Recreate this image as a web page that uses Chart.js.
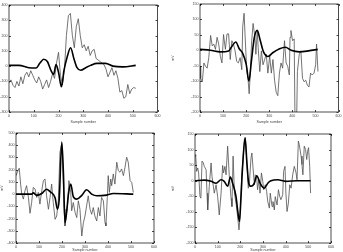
<!DOCTYPE html>
<html>
<head>
<meta charset="utf-8">
<script src="https://cdn.jsdelivr.net/npm/chart.js@4.4.0/dist/chart.umd.min.js"></script>
<style>
  body { margin: 0; background: #fff; width: 343px; height: 252px; position: relative; overflow: hidden; }
  canvas { position: absolute; }
</style>
</head>
<body>
<canvas id="c1" style="left:0;top:0" width="162" height="124"></canvas>
<canvas id="c2" style="left:171px;top:0" width="172" height="124"></canvas>
<canvas id="c3" style="left:0;top:126px" width="160" height="126"></canvas>
<canvas id="c4" style="left:171px;top:126px" width="172" height="126"></canvas>
<script>
// x tick labels (shared)
const xTicks = [0, 100, 200, 300, 400, 500, 600]

// panel 1 (top left)
const p1Samples = [0,8,16,24,32,40,48,56,64,72,80,88,96,104,112,120,128,136,144,152,160,168,176,184,192,200,208,216,224,232,240,248,256,264,272,280,288,296,304,312,320,328,336,344,352,360,368,376,384,392,400,408,416,424,432,440,448,456,464,472,480,488,496,504,512]
const p1Grey = [-110,-90,-125,-140,-100,-130,-70,-115,-60,-40,-70,-30,-60,-90,-110,-70,-100,-150,-120,-90,-140,-100,-50,-80,20,90,-60,-120,-20,200,330,345,200,120,260,310,200,120,140,100,130,70,100,110,50,40,30,20,10,-20,-70,-40,-10,-60,-30,-80,-170,-160,-210,-200,-120,-180,-150,-140,-145]
const p1SmoothX = [0,40,80,110,125,140,155,170,180,190,200,212,222,235,249,262,275,290,310,330,355,390,420,460,512]
const p1Smooth = [5,5,-10,-12,20,45,30,-30,-55,10,-40,-135,-30,60,120,50,-10,-27,-10,5,18,18,0,-5,5]

// panel 2 (top right)
const p2Samples = [0,3,10,17,24,31,38,46,53,60,67,74,81,88,95,102,110,117,124,131,138,145,152,159,166,174,181,185,191,195,202,209,213,219,223,230,238,242,248,252,259,266,273,280,287,294,302,309,316,323,330,337,344,351,358,366,373,380,387,390,394,401,408,412,418,422,430,437,444,451,458,465,472,479,486,494,501,505,511]
const p2Grey = [-52,-91,-102,-41,-52,-58,-24,48,14,20,3,42,20,-19,-41,51,3,53,53,-30,31,20,-2,-36,-41,-24,-63,76,120,53,-58,-102,-141,-58,20,87,42,-13,64,9,-69,-2,-47,-30,-13,-74,-19,-74,-30,-97,-136,-147,-74,-41,-58,31,-41,-52,-80,42,64,31,37,-260,-260,-69,-13,-2,-91,-102,-97,-113,-119,-74,-80,-74,-47,20,-69]
const p2SmoothX = [0,45,88,124,140,155,170,185,200,212,222,235,248,260,275,295,315,345,370,395,430,470,510]
const p2Smooth = [3,0,-5,-2,15,27,5,-10,-45,-100,-40,40,65,35,-5,-20,-8,5,10,0,-5,-2,3]

// panel 3 (bottom left)
const p3Samples = [0,6,14,20,25,32,39,46,54,61,68,75,83,90,97,104,112,119,126,133,141,148,155,162,170,177,184,191,199,203,209,213,220,225,230,238,242,249,257,264,271,278,286,293,300,307,314,322,329,336,343,351,358,365,372,380,387,391,397,401,406,412,416,423,430,438,445,452,459,467,474,481,488,496,503,510]
const p3Grey = [151,179,212,82,0,-41,27,69,-27,-157,-69,55,41,-27,14,-82,27,110,124,-14,-124,-27,82,-69,-206,-179,-55,343,412,247,-124,-261,-151,-69,110,14,-137,-69,-151,-192,-55,-124,-343,-234,-179,-96,-14,-124,-165,-110,-179,-220,-110,-179,-27,-55,-234,-261,-27,151,14,124,69,165,82,261,192,179,206,151,220,302,261,110,96,14]
const p3SmoothX = [0,68,75,90,112,133,148,170,180,188,199,206,213,220,228,238,249,264,286,307,329,351,394,423,510]
const p3Smooth = [0,0,10,-10,5,40,20,-30,-124,-40,426,180,-234,-150,0,82,-20,-41,-10,36,0,-14,-8,5,0]

// panel 4 (bottom right)
const p4Samples = [0,3,7,12,16,22,26,31,37,41,49,53,56,63,71,75,79,85,93,100,107,115,122,126,132,137,144,151,159,163,168,174,181,188,194,199,206,212,218,222,228,235,240,247,251,256,262,266,272,276,281,287,293,299,303,310,316,321,328,332,340,344,350,354,362,368,374,379,387,391,397,401,406,412,418,424,431,438,446,450,456,460,468,472,476,482,488,493,497,501,506,510]
const p4Grey = [79,84,30,41,25,-51,-56,63,57,46,35,-40,-94,-18,57,14,14,-40,-13,-51,-110,-40,49,25,46,19,111,19,-56,-83,79,-40,-72,-115,-158,-115,14,68,133,138,68,-24,-8,73,89,41,-13,19,14,-29,3,-40,25,-2,-29,-13,-34,-67,-88,-40,-83,-67,-94,-51,-78,-29,-51,-61,-45,30,46,-40,-99,-72,-13,-24,19,46,25,3,127,116,79,52,19,111,100,68,95,106,46,-40]
const p4SmoothX = [0,41,71,93,115,129,144,156,166,181,188,196,203,210,221,229,237,247,262,272,290,306,321,335,365,400,450,510]
const p4Smooth = [0,2,-2,-8,3,-2,-18,12,-8,-51,-94,-131,-51,46,138,57,-8,-18,-8,16,-12,-24,-8,0,3,-2,0,0]

const tickFont = { family: 'Liberation Sans', size: 3.6 }

// box round the plot + small inward tick marks
const frame = {
  id: 'frame',
  afterDatasetsDraw(chart) {
    const { ctx, chartArea: a, scales: { x, y } } = chart
    ctx.save()
    ctx.strokeStyle = '#000'
    ctx.lineWidth = 0.7
    ctx.strokeRect(a.left, a.top, a.right - a.left, a.bottom - a.top)
    ctx.beginPath()
    x.ticks.forEach(t => {
      const px = Math.round(x.getPixelForValue(t.value)) + 0.5
      ctx.moveTo(px, a.bottom); ctx.lineTo(px, a.bottom - 2)
      ctx.moveTo(px, a.top); ctx.lineTo(px, a.top + 2)
    })
    y.ticks.forEach(t => {
      const py = Math.round(y.getPixelForValue(t.value)) + 0.5
      ctx.moveTo(a.left, py); ctx.lineTo(a.left + 2, py)
      ctx.moveTo(a.right, py); ctx.lineTo(a.right - 2, py)
    })
    ctx.stroke()
    ctx.restore()
  }
}

function toPoints(xs, ys) {
  return xs.map((x, i) => ({ x: x, y: ys[i] }))
}

function makeChart(id, samples, grey, smoothX, smooth, cfg) {
  new Chart(document.getElementById(id), {
    type: 'line',
    data: {
      datasets: [
        {
          data: toPoints(smoothX, smooth),
          borderColor: '#000',
          borderWidth: 1.6,
          pointRadius: 0,
          cubicInterpolationMode: 'monotone'
        },
        {
          data: toPoints(samples, grey),
          borderColor: '#505050',
          borderWidth: 0.8,
          pointRadius: 0,
          tension: 0
        }
      ]
    },
    options: {
      responsive: false,
      animation: false,
      devicePixelRatio: 1,
      layout: { padding: { top: cfg.top, right: cfg.right, left: 0, bottom: 0 } },
      plugins: { legend: { display: false }, tooltip: { enabled: false } },
      scales: {
        x: {
          type: 'linear',
          min: 0,
          max: 600,
          afterBuildTicks: s => { s.ticks = xTicks.map(v => ({ value: v })) },
          ticks: { font: tickFont, color: '#444', padding: 1.5, maxRotation: 0, autoSkip: false },
          grid: { display: false, drawTicks: false },
          border: { display: false },
          title: { display: true, text: 'Sample number', font: tickFont, color: '#444', padding: 0 },
          afterFit: s => { s.height = cfg.xh }
        },
        y: {
          min: cfg.min,
          max: cfg.max,
          ticks: { stepSize: cfg.step, font: tickFont, color: '#444', padding: 1.5, autoSkip: false },
          grid: { display: false, drawTicks: false },
          border: { display: false },
          title: { display: !!cfg.yTitle, text: cfg.yTitle, font: tickFont, color: '#444', padding: 0 },
          afterFit: s => { s.width = cfg.yw }
        }
      }
    },
    plugins: [frame]
  })
}

makeChart('c1', p1Samples, p1Grey, p1SmoothX, p1Smooth,
  { min: -300, max: 400, step: 100, yw: 9, xh: 12, top: 5, right: 4, yTitle: '' })
makeChart('c2', p2Samples, p2Grey, p2SmoothX, p2Smooth,
  { min: -200, max: 150, step: 50, yw: 29, xh: 12, top: 4, right: 2, yTitle: 'mV' })
makeChart('c3', p3Samples, p3Grey, p3SmoothX, p3Smooth,
  { min: -400, max: 500, step: 100, yw: 16, xh: 9, top: 7, right: 6, yTitle: 'mV' })
makeChart('c4', p4Samples, p4Grey, p4SmoothX, p4Smooth,
  { min: -200, max: 150, step: 50, yw: 24, xh: 9, top: 8, right: 12, yTitle: 'mV' })
</script>
</body>
</html>
